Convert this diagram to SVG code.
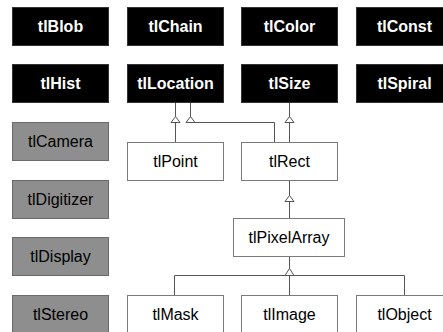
<svg xmlns="http://www.w3.org/2000/svg" width="443" height="332" viewBox="0 0 443 332">
<style>
.blk rect{fill:#000;stroke:#333;stroke-width:1}
.gry rect{fill:#8e8e8e;stroke:#6a6a6a;stroke-width:1}
.wht rect{fill:#fff;stroke:#7a7a7a;stroke-width:1}
text{font-family:"Liberation Sans",Arial,sans-serif;font-size:16px;text-anchor:middle}
.blk text{fill:#fff;font-weight:bold}
.gry text,.wht text{fill:#000}
.conn line,.conn polyline{fill:none;stroke:#555;stroke-width:1}
.conn polygon{fill:#fff;stroke:#555;stroke-width:1}
</style>
<rect width="443" height="332" fill="#fff"/>
<g id="tlBlob" class="blk"><rect x="12.5" y="7.5" width="96" height="38"/><text x="60.5" y="32">tlBlob</text></g>
<g id="tlChain" class="blk"><rect x="127.5" y="7.5" width="96" height="38"/><text x="175.5" y="32">tlChain</text></g>
<g id="tlColor" class="blk"><rect x="241.5" y="7.5" width="96" height="38"/><text x="289.5" y="32">tlColor</text></g>
<g id="tlConst" class="blk"><rect x="356.5" y="7.5" width="96" height="38"/><text x="404.5" y="32">tlConst</text></g>
<g id="tlHist" class="blk"><rect x="12.5" y="64.5" width="96" height="38"/><text x="60.5" y="89">tlHist</text></g>
<g id="tlLocation" class="blk"><rect x="127.5" y="64.5" width="96" height="38"/><text x="175.5" y="89">tlLocation</text></g>
<g id="tlSize" class="blk"><rect x="241.5" y="64.5" width="96" height="38"/><text x="289.5" y="89">tlSize</text></g>
<g id="tlSpiral" class="blk"><rect x="356.5" y="64.5" width="96" height="38"/><text x="404.5" y="89">tlSpiral</text></g>
<g id="tlCamera" class="gry"><rect x="12.5" y="122.5" width="96" height="38"/><text x="60.5" y="147">tlCamera</text></g>
<g id="tlDigitizer" class="gry"><rect x="12.5" y="180.5" width="96" height="38"/><text x="60.5" y="205">tlDigitizer</text></g>
<g id="tlDisplay" class="gry"><rect x="12.5" y="237.5" width="96" height="38"/><text x="60.5" y="262">tlDisplay</text></g>
<g id="tlStereo" class="gry"><rect x="12.5" y="295.5" width="96" height="38"/><text x="60.5" y="320">tlStereo</text></g>
<g id="tlPoint" class="wht"><rect x="127.5" y="142.5" width="96" height="38"/><text x="175.5" y="167">tlPoint</text></g>
<g id="tlRect" class="wht"><rect x="241.5" y="142.5" width="96" height="38"/><text x="289.5" y="167">tlRect</text></g>
<g id="tlPixelArray" class="wht"><rect x="233.5" y="218.5" width="111" height="38"/><text x="289" y="243">tlPixelArray</text></g>
<g id="tlMask" class="wht"><rect x="127.5" y="295.5" width="96" height="38"/><text x="175.5" y="320">tlMask</text></g>
<g id="tlImage" class="wht"><rect x="241.5" y="295.5" width="96" height="38"/><text x="289.5" y="320">tlImage</text></g>
<g id="tlObject" class="wht"><rect x="356.5" y="295.5" width="96" height="38"/><text x="404.5" y="320">tlObject</text></g>
<g id="connectors" class="conn">
<line x1="175.5" y1="103" x2="175.5" y2="142"/>
<polygon points="175.5,116.5 171,122.5 180,122.5"/>
<polyline points="274.5,142 274.5,122.5 190.5,122.5 190.5,103"/>
<polygon points="190.5,116.5 186,122.5 195,122.5"/>
<line x1="289.5" y1="103" x2="289.5" y2="142"/>
<polygon points="289.5,116.5 285,122.5 294,122.5"/>
<line x1="289.5" y1="181" x2="289.5" y2="218"/>
<polygon points="289.5,195.5 285,201.5 294,201.5"/>
<line x1="289.5" y1="257" x2="289.5" y2="295"/>
<polyline points="174.5,295 174.5,275.5 404.5,275.5 404.5,295"/>
<polygon points="289.5,268.5 285,275.5 294,275.5"/>
</g>
</svg>
